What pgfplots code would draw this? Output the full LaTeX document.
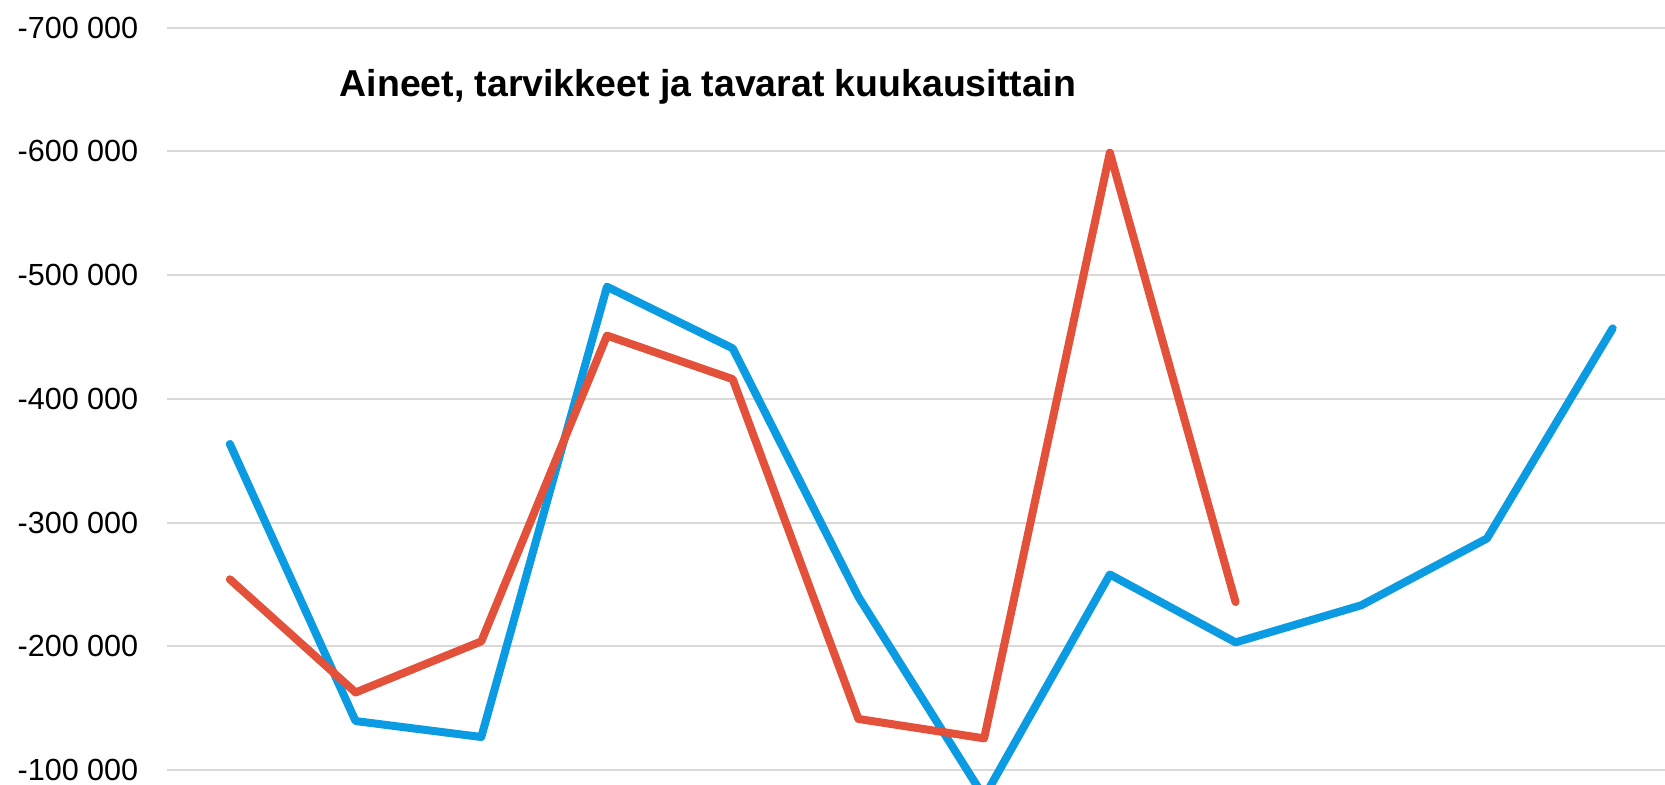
\documentclass[border=0pt]{standalone}
\usepackage{fontspec}
\setmainfont{Liberation Sans}
\usepackage{pgfplots}
\pgfplotsset{compat=1.18}
\definecolor{sblue}{HTML}{0B9BE3}
\definecolor{sred}{HTML}{E4513A}
\definecolor{gridc}{HTML}{D9D9D9}
\begin{document}
\begin{tikzpicture}
\path[use as bounding box] (0,0) rectangle (16.65cm,7.84cm);
\begin{axis}[
 at={(1.67cm,0cm)}, anchor=south west,
 scale only axis, width=14.98cm, height=7.84cm,
 xmin=-0.5, xmax=11.416,
 ymin=-722400, ymax=-88600, y dir=reverse,
 axis line style={draw=none},
 xtick=\empty,
 ytick={-700000,-600000,-500000,-400000,-300000,-200000,-100000},
 yticklabels={-700 000,-600 000,-500 000,-400 000,-300 000,-200 000,-100 000},
 ymajorgrids, grid style={gridc, line width=0.02cm},
 major tick length=0pt,
 yticklabel style={anchor=east, inner sep=0pt, xshift=-0.28cm, font=\fontsize{8.7}{10}\selectfont},
 every axis plot/.append style={line width=0.08cm, line cap=round, line join=round, mark=none},
]
\addplot[sblue] coordinates {
 (0,-363500) (1,-139500) (2,-126600) (3,-490600) (4,-440800) (5,-239900)
 (6,-78000) (7,-258000) (8,-203100) (9,-233100) (10,-287100) (11,-457000)
};
\addplot[sred] coordinates {
 (0,-254100) (1,-162600) (2,-203900) (3,-451100) (4,-415900) (5,-141200)
 (6,-125500) (7,-599000) (8,-235700)
};
\end{axis}
\node[anchor=base, font=\bfseries\fontsize{10.65}{12}\selectfont] at (7.08cm,6.873cm) {Aineet, tarvikkeet ja tavarat kuukausittain};
\end{tikzpicture}
\end{document}
